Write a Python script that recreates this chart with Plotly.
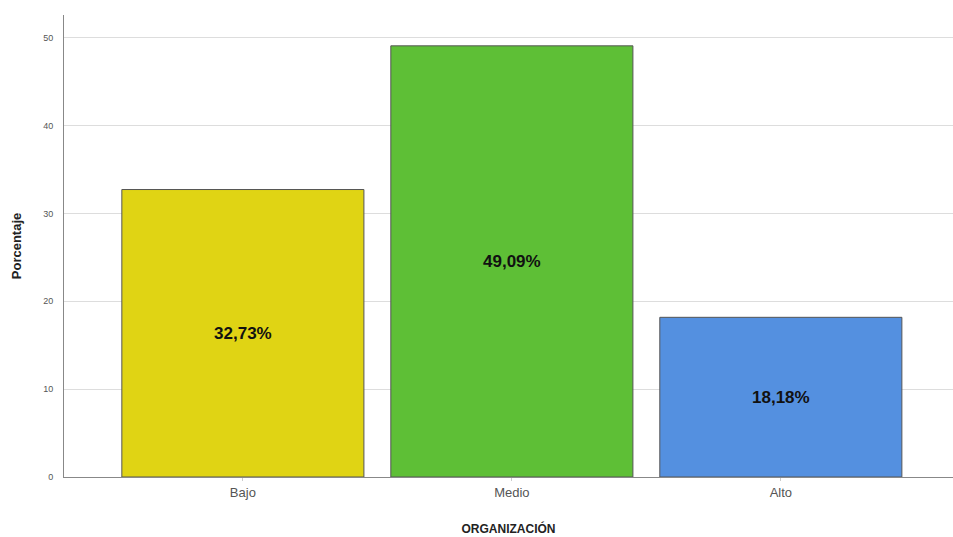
import plotly.graph_objects as go

categories = ["Bajo", "Medio", "Alto"]
values = [32.73, 49.09, 18.18]
labels = ["32,73%", "49,09%", "18,18%"]
colors = ["#E0D414", "#5EBF36", "#5490E0"]
y_ticks = [0, 10, 20, 30, 40, 50]

fig = go.Figure(go.Bar(
    x=categories, y=values, text=["<b>" + t + "</b>" for t in labels],
    textposition="inside", insidetextanchor="middle",
    textfont=dict(family="Arial, Liberation Sans", size=17, color="#111111"),
    marker=dict(color=colors, line=dict(color="#555555", width=1)),
    width=0.9, textangle=0,
))

fig.update_layout(
    width=953, height=537,
    margin=dict(l=64, r=0, t=15, b=60),
    plot_bgcolor="white", paper_bgcolor="white",
    showlegend=False,
    font=dict(family="Arial, Liberation Sans"),
    uniformtext=dict(minsize=17, mode="show"),
)
fig.update_xaxes(
    range=[-0.665, 2.64],
    showline=True, linecolor="#888888", linewidth=1,
    tickfont=dict(size=13, color="#555555"),
    ticks="outside", ticklen=3, tickcolor="#cccccc",
    title=dict(text="<b>ORGANIZACIÓN</b>", font=dict(size=12, color="#222222"), standoff=26),
)
fig.update_yaxes(
    range=[0, 52.6],
    tickvals=y_ticks,
    showline=True, linecolor="#888888", linewidth=1,
    showgrid=True, gridcolor="#dddddd", gridwidth=1,
    tickfont=dict(size=9, color="#555555"),
    ticks="outside", ticklen=8, tickcolor="rgba(0,0,0,0)",
    zeroline=False,
    title=dict(text="<b>Porcentaje</b>", font=dict(size=13, color="#222222"), standoff=18),
)

fig.write_html("out.html")
